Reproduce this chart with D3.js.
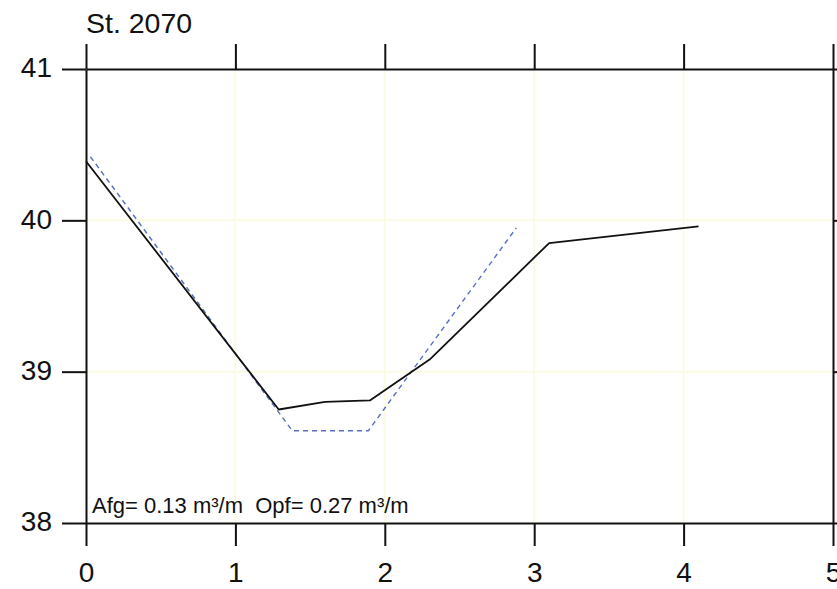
<!DOCTYPE html>
<html><head><meta charset="utf-8">
<script src="https://cdn.jsdelivr.net/npm/d3@7"></script>
<style>body{margin:0;background:#fff}svg{display:block}text{font-family:"Liberation Sans",Arial,sans-serif;fill:#111}</style>
</head><body><div id="c"></div>
<script>
const title = "St. 2070";
const annotation = "Afg= 0.13 m³/m  Opf= 0.27 m³/m";
const xTicks = [0,1,2,3,4,5];
const yTicks = [38,39,40,41];
const measuredX = [0, 1.29, 1.6, 1.9, 2.3, 3.1, 4.1];
const measuredY = [40.39, 38.75, 38.8, 38.81, 39.08, 39.85, 39.96];
const designX = [0.03, 1.38, 1.89, 2.88];
const designY = [40.42, 38.61, 38.61, 39.95];

const W = 837, H = 589;
const svg = d3.select("#c").append("svg").attr("width", W).attr("height", H);
const x = d3.scaleLinear().domain([0,5]).range([86, 833]);
const y = d3.scaleLinear().domain([38,41]).range([523, 69]);

// grid
const g = svg.append("g");
g.selectAll("line.gx").data(xTicks.filter(d=>d>0&&d<5)).join("line")
  .attr("x1", d=>x(d)).attr("x2", d=>x(d)).attr("y1", y(41)).attr("y2", y(38))
  .attr("stroke", "#fbfbe2").attr("stroke-width", 2);
g.selectAll("line.gy").data(yTicks.filter(d=>d>38&&d<41)).join("line")
  .attr("x1", x(0)).attr("x2", x(5)).attr("y1", d=>y(d)).attr("y2", d=>y(d))
  .attr("stroke", "#fbfbe2").attr("stroke-width", 2);

// axes
const axStyle = s => s.call(a=>a.select(".domain").attr("stroke","#111").attr("stroke-width",2))
  .call(a=>a.selectAll(".tick line").attr("stroke","#111").attr("stroke-width",2));
svg.append("g").attr("transform", `translate(0,${y(38)})`)
  .call(d3.axisBottom(x).tickValues(xTicks).tickSize(23).tickPadding(16).tickSizeOuter(0).tickFormat(d3.format("d")))
  .call(axStyle)
  .call(a=>a.selectAll("text").attr("font-size", 28).attr("fill","#111").style("font-family",'"Liberation Sans",Arial,sans-serif'));
svg.append("g").attr("transform", `translate(0,${y(41)})`)
  .call(d3.axisTop(x).tickValues(xTicks).tickSize(25).tickSizeOuter(0).tickFormat(""))
  .call(axStyle);
svg.append("g").attr("transform", `translate(${x(0)},0)`)
  .call(d3.axisLeft(y).tickValues(yTicks).tickSize(24).tickPadding(10).tickSizeOuter(0).tickFormat(d3.format("d")))
  .call(axStyle)
  .call(a=>a.selectAll("text").attr("font-size", 28).attr("dy","0.28em").attr("fill","#111").style("font-family",'"Liberation Sans",Arial,sans-serif'));
svg.append("g").attr("transform", `translate(${x(5)},0)`)
  .call(d3.axisRight(y).tickValues(yTicks).tickSize(10).tickSizeOuter(0).tickFormat(""))
  .call(axStyle);

// lines
const line = d3.line().x(d=>x(d[0])).y(d=>y(d[1]));
svg.append("path").datum(d3.zip(designX, designY)).attr("d", line)
  .attr("fill","none").attr("stroke","#5a6fc4").attr("stroke-width",1.4).attr("stroke-dasharray","5,4");
svg.append("path").datum(d3.zip(measuredX, measuredY)).attr("d", line)
  .attr("fill","none").attr("stroke","#111").attr("stroke-width",1.8).attr("stroke-linejoin","round");

// texts
svg.append("text").attr("x", 86).attr("y", 33).attr("font-size", 28.5).text(title);
svg.append("text").attr("x", 92).attr("y", 513).attr("font-size", 22).style("white-space","pre").text(annotation);
</script></body></html>
